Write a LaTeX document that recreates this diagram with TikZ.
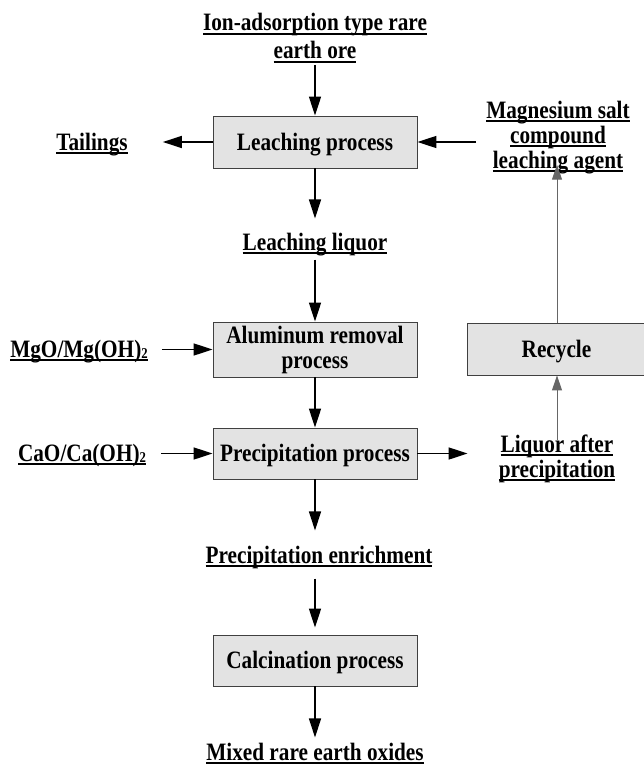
\documentclass[tikz,border=0pt]{standalone}
\usepackage{fontspec}
\setmainfont{Liberation Serif}[FakeStretch=0.85]
\usetikzlibrary{arrows.meta}
\newcommand\ulx[1]{\leavevmode\setbox0\hbox{#1}\rlap{\rule[-3.6pt]{\wd0}{1.4pt}}\box0}
\begin{document}
\begin{tikzpicture}[x=1pt,y=-1pt,
  txt/.style={font=\fontsize{25}{25}\selectfont\bfseries, align=center, inner sep=0pt, anchor=base},
  proc/.style={draw=black!75, fill=black!11, line width=0.9pt, minimum width=204pt, minimum height=52pt, align=center, inner sep=0pt, text height=17pt, text depth=1pt, font=\fontsize{25}{25}\selectfont\bfseries},
  proc2/.style={draw=black!75, fill=black!11, line width=0.9pt, minimum width=204pt, minimum height=55pt, align=center, inner sep=0pt, font=\fontsize{25}{25}\selectfont\bfseries},
  arr/.style={line width=1.5pt, -{Triangle[length=19pt,width=12pt]}},
  garr/.style={line width=1pt, draw=black!60, -{Triangle[length=15pt,width=10pt]}, color=black!60}
]
\useasboundingbox (0,0) rectangle (644,765);

\node[txt, font=\fontsize{25}{28}\selectfont\bfseries] (ore) at (315,59) {\ulx{Ion-adsorption type rare}\\\ulx{earth ore}};
\node[proc] (leach) at (315,142) {Leaching process};
\node[txt] (tail) at (92,150) {\ulx{Tailings}};
\node[txt] (mag) at (558,168) {\ulx{Magnesium salt}\\\ulx{compound}\\\ulx{leaching agent}};
\node[txt] (liquor) at (315,250) {\ulx{Leaching liquor}};
\node[proc2] (alum) at (315,349.5) {Aluminum removal\\process};
\node[txt] (mgo) at (79,357) {\ulx{MgO/Mg(OH)\raisebox{-1.5pt}{\fontsize{15}{15}\selectfont 2}}};
\node[proc, minimum height=51pt] (precip) at (315,453.5) {Precipitation process};
\node[txt] (cao) at (82,461) {\ulx{CaO/Ca(OH)\raisebox{-1.5pt}{\fontsize{15}{15}\selectfont 2}}};
\node[txt] (after) at (557,477) {\ulx{Liquor after}\\\ulx{precipitation}};
\node[proc, minimum width=190pt] (recycle) at (562,349) {\hspace*{-11pt}Recycle};
\node[txt] (enrich) at (319,563) {\ulx{Precipitation enrichment}};
\node[proc, minimum height=51pt] (calc) at (315,660.5) {Calcination process};
\node[txt] (mixed) at (315,760) {\ulx{Mixed rare earth oxides}};

\draw[arr, shorten <=2pt] (ore.south) -- (leach.north);
\draw[arr, shorten >=35pt] (leach.west) -- (tail.east |- leach.west);
\draw[arr, shorten <=10pt] (mag.west |- leach.east) -- (leach.east);
\draw[arr, shorten >=14pt] (leach.south) -- (liquor.north);
\draw[arr, shorten <=4pt] (liquor.south) -- (alum.north);
\draw[arr, shorten <=14pt] (mgo.east |- alum.west) -- (alum.west);
\draw[arr] (alum.south) -- (precip.north);
\draw[arr, shorten <=15pt] (cao.east |- precip.west) -- (precip.west);
\draw[arr, shorten >=31pt] (precip.east) -- (after.west |- precip.east);
\draw[arr, shorten >=15pt] (precip.south) -- (precip.south |- enrich.north);
\draw[arr, shorten <=10pt, shorten >=7pt] (enrich.south -| calc.north) -- (calc.north);
\draw[arr, shorten >=5pt] (calc.south) -- (calc.south |- mixed.north);
\draw[garr, shorten <=-6pt] (after.north) -- (after.north |- recycle.south);
\draw[garr, shorten >=-9pt] (after.north |- recycle.north) -- (after.north |- mag.south);
\end{tikzpicture}
\end{document}
